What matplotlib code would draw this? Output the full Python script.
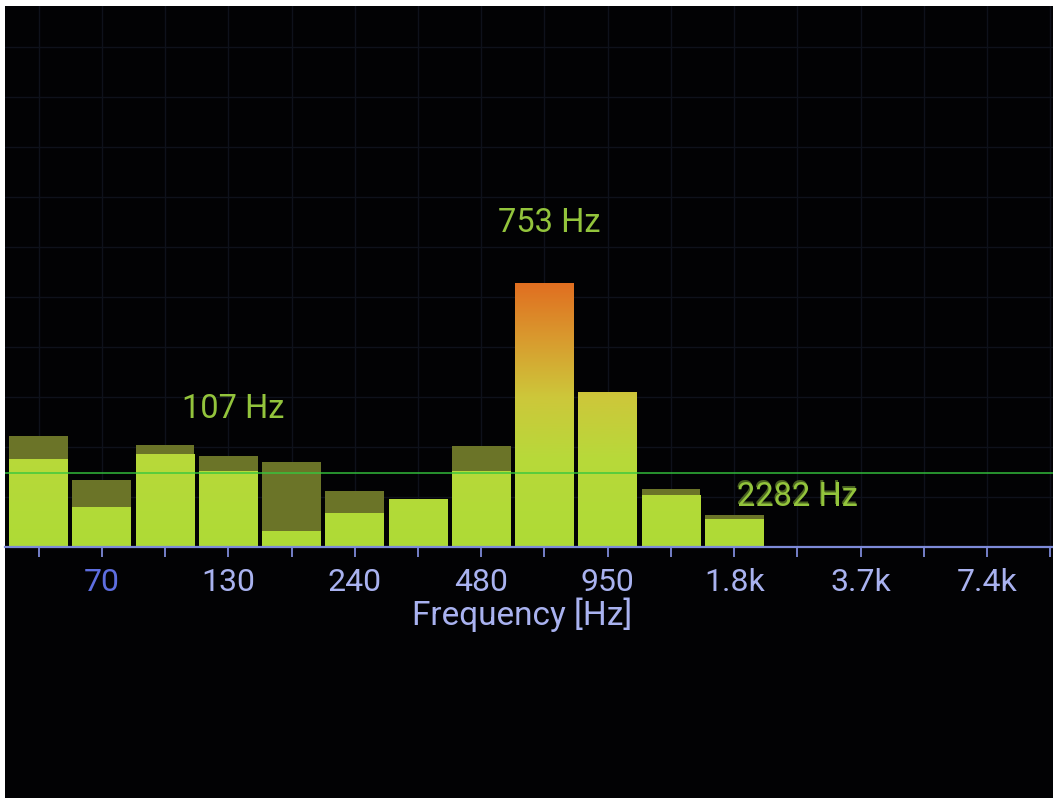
import numpy as np
import matplotlib
matplotlib.use("Agg")
import matplotlib.pyplot as plt
from matplotlib.colors import LinearSegmentedColormap
from matplotlib.patches import Rectangle

# band index along the x axis (half-octave steps), one bar per band
band_index = list(range(12))
# level above the floor, 10 units per grid line
peak_level = [22.2, 13.4, 20.4, 18.2, 17.0, 11.2, 9.6, 20.2, 52.8, 31.0, 11.6, 6.4]
current_level = [17.6, 8.0, 18.6, 15.2, 3.2, 6.8, 9.6, 15.2, 52.8, 31.0, 10.4, 5.6]
threshold_level = 14.8

tick_pos = [1, 3, 5, 7, 9, 11, 13, 15]
tick_labels = ["70", "130", "240", "480", "950", "1.8k", "3.7k", "7.4k"]
minor_pos = [0, 2, 4, 6, 8, 10, 12, 14, 16]

peak_names = ["107 Hz", "753 Hz", "2282 Hz"]
peak_x = [3.08, 8.07, 12.0]
peak_y = [27.6, 64.8, 10.0]

W, H = 1053, 798
fig = plt.figure(figsize=(W / 100, H / 100), dpi=100)
fig.patch.set_facecolor("white")
# the black screen of the photo, white margin top and left
fig.patches.append(Rectangle((5 / W, 0), 1, (H - 6) / H, transform=fig.transFigure,
                             facecolor="#020204", edgecolor="none", zorder=-1))

ax = fig.add_axes([5 / W, (H - 547) / H, (W - 5) / W, (547 - 6) / H])
ax.set_facecolor("#020204")
xlim = (-0.53, 16.04)
ylim = (0, 108.2)

font = "Roboto"

# faint screen grid
for k in range(17):
    ax.axvline(k, color="#0e111b", lw=1, zorder=1)
for lv in range(10, 110, 10):
    ax.axhline(lv, color="#0e111b", lw=1, zorder=1)

# peak-hold bars (dark olive)
ax.bar(band_index, peak_level, width=0.93, color="#6b7428", zorder=2)

# current bars with height gradient
cmap = LinearSegmentedColormap.from_list("lvl", [
    (0.0, "#aedb36"), (18 / 55, "#b8d93a"), (30 / 55, "#cdc73a"),
    (42 / 55, "#d9992e"), (1.0, "#e2661e")])
grad = np.linspace(0, 1, 256).reshape(-1, 1)
bars = ax.bar(band_index, current_level, width=0.93, color="none", zorder=3)
for rect in bars:
    im = ax.imshow(grad, extent=(xlim[0], xlim[1], 0, 55), origin="lower",
                   cmap=cmap, aspect="auto", zorder=3, interpolation="bilinear")
    im.set_clip_path(rect)

# threshold line
ax.axhline(threshold_level, color="#35c83e", lw=1.2, alpha=0.85, zorder=5)

# peak labels
for name, x, y in zip(peak_names, peak_x, peak_y):
    ax.text(x, y, name, color="#93c43c", fontsize=23.5, family=font,
            ha="center", va="center", zorder=6)
# ghost of the last label
ax.text(peak_x[2] - 0.02, peak_y[2] + 0.5, peak_names[2], color="#93c43c", alpha=0.5,
        fontsize=23.5, family=font, ha="center", va="center", zorder=6)

ax.set_xlim(*xlim)
ax.set_ylim(*ylim)

for s in ["top", "left", "right"]:
    ax.spines[s].set_visible(False)
ax.spines["bottom"].set_color("#7d8ad8")
ax.spines["bottom"].set_linewidth(1.6)
ax.spines["bottom"].set_zorder(7)

ax.set_xticks(tick_pos)
ax.set_xticklabels(tick_labels)
ax.set_xticks(minor_pos, minor=True)
ax.tick_params(axis="x", which="both", direction="out", length=7, width=1.3,
               color="#7d8ad8", pad=8, labelsize=23, labelcolor="#a9b2f0")
for lab in ax.get_xticklabels():
    lab.set_family(font)
ax.get_xticklabels()[0].set_color("#5e6ee0")
ax.set_yticks([])

ax.set_xlabel("Frequency [Hz]", color="#a9b2f0", fontsize=24, family=font, labelpad=0)
ax.xaxis.set_label_coords((522 - 5) / (W - 5), -(615 - 547) / (547 - 6))
ax.xaxis.label.set_va("center")

fig.savefig("out.png", dpi=100, facecolor=fig.get_facecolor())
